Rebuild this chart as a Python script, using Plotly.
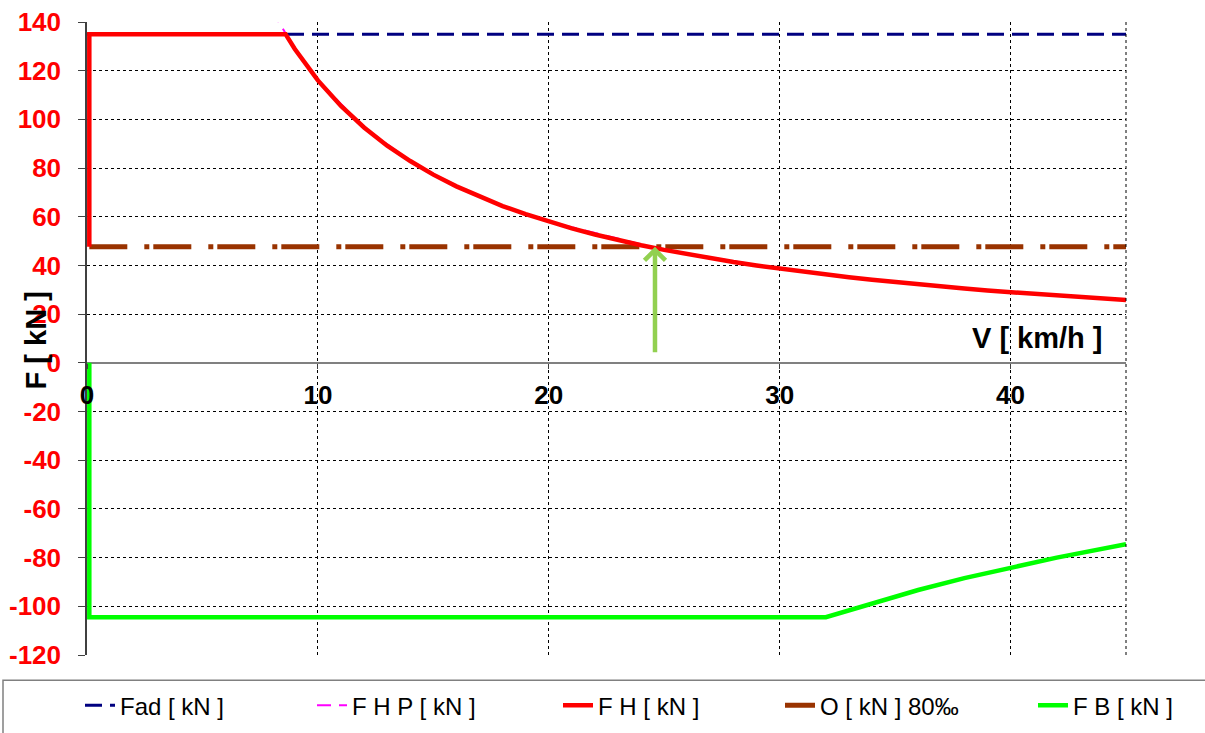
import plotly.graph_objects as go

# Speed axis [km/h] and force values [kN]
fh_v = [0.1, 0.1, 8.6, 9, 10, 11, 12, 13, 14, 15, 16, 17, 18, 19, 20, 21, 22, 23, 24, 25,
        26, 27, 28, 29, 30, 31, 32, 33, 34, 35, 36, 37, 38, 39, 40, 41, 42, 43, 44, 45]
fh_f = [47.7, 135, 135, 128.9, 116, 105.5, 96.7, 89.2, 82.9, 77.3, 72.5, 68.2, 64.4, 61.1,
        58.0, 55.2, 52.7, 50.4, 48.3, 46.4, 44.6, 43.0, 41.4, 40.0, 38.7, 37.4, 36.3, 35.2,
        34.1, 33.1, 32.2, 31.4, 30.5, 29.7, 29.0, 28.3, 27.6, 27.0, 26.4, 25.8]

fhp_v = [8.0, 8.6, 9, 10, 12, 14, 16, 18, 20, 25, 30, 35, 40, 45]
fhp_f = [145, 135, 128.9, 116, 96.7, 82.9, 72.5, 64.4, 58.0, 46.4, 38.7, 33.1, 29.0, 25.8]

fad_v = [0, 45]
fad_f = [135, 135]

o_v = [0.1, 45]
o_f = [47.7, 47.7]

fb_v = [0.1, 0.1, 32, 34, 36, 38, 40, 42, 45]
fb_f = [0, -104.5, -104.5, -98.8, -93.3, -88.4, -84.0, -80.0, -74.5]

# Intersection of traction force and resistance
cross_v = 24.6
cross_f = 47.7

x_ticks = [0, 10, 20, 30, 40]
y_ticks = list(range(-120, 141, 20))

FONT = "Arial, Liberation Sans, sans-serif"
PLOT_L, PLOT_W = 87, 1039


def px_to_paper_x(px):
    return (px - PLOT_L) / PLOT_W


# One legend box per series so each entry sits at its own place in the row
legend_left_px = [80, 312, 558, 780, 1033]
legend_ids = ["legend", "legend2", "legend3", "legend4", "legend5"]

fig = go.Figure()

fig.add_trace(go.Scatter(x=fad_v, y=fad_f, mode="lines", name="Fad [ kN ]",
                         line=dict(color="#000080", width=3, dash="17px,8px"),
                         legend=legend_ids[0]))
fig.add_trace(go.Scatter(x=fhp_v, y=fhp_f, mode="lines", name="F H P [ kN ]",
                         line=dict(color="#FF00FF", width=2, dash="14px,8px"),
                         legend=legend_ids[1]))
fig.add_trace(go.Scatter(x=o_v, y=o_f, mode="lines", name="O [ kN ] 80‰",
                         line=dict(color="#993300", width=5, dash="38px,17px,5px,4px"),
                         legend=legend_ids[3]))
fig.add_trace(go.Scatter(x=fh_v, y=fh_f, mode="lines", name="F H [ kN ]",
                         line=dict(color="#FF0000", width=4.5),
                         legend=legend_ids[2]))
fig.add_trace(go.Scatter(x=fb_v, y=fb_f, mode="lines", name="F B [ kN ]",
                         line=dict(color="#00FF00", width=4.5),
                         legend=legend_ids[4]))

# Arrow pointing at the balance speed
fig.add_annotation(x=cross_v, y=cross_f, xref="x", yref="y", ax=0, ay=107,
                   showarrow=True, arrowhead=4, arrowsize=0.9, arrowwidth=4.5,
                   arrowcolor="#92D050", text="")

# Axis titles
fig.add_annotation(x=px_to_paper_x(36), y=0.497, xref="paper", yref="paper",
                   xanchor="center", yanchor="middle",
                   text="<b>F [ kN ]</b>", textangle=-90, showarrow=False,
                   font=dict(family=FONT, size=29, color="black"))
fig.add_annotation(x=px_to_paper_x(1105), y=0.501, xref="paper", yref="paper",
                   xanchor="right", yanchor="middle",
                   text="<b>V [ km/h ]</b>", showarrow=False,
                   font=dict(family=FONT, size=29, color="black"))

# Right border of the plot area (dotted like the grid)
fig.add_shape(type="line", x0=1, x1=1, y0=0, y1=1, xref="paper", yref="paper",
              line=dict(color="black", width=1, dash="dot"))

# Legend frame
fig.add_shape(type="rect", x0=px_to_paper_x(3), x1=1.2, y0=-0.04, y1=-0.2,
              xref="paper", yref="paper",
              line=dict(color="#808080", width=1.5), fillcolor="rgba(0,0,0,0)")

zero_pos = (0 - y_ticks[0]) / (y_ticks[-1] - y_ticks[0])

legend_style = dict(orientation="h", xanchor="left", y=-0.08, yanchor="middle",
                    font=dict(family=FONT, size=24, color="black"),
                    bgcolor="rgba(0,0,0,0)", borderwidth=0)
legends = {lid: dict(legend_style, x=px_to_paper_x(px))
           for lid, px in zip(legend_ids, legend_left_px)}

fig.update_layout(
    width=1205, height=733,
    margin=dict(l=87, r=79, t=22, b=78, autoexpand=False),
    paper_bgcolor="white", plot_bgcolor="white",
    font=dict(family=FONT),
    showlegend=True,
    xaxis=dict(range=[0, 45], tickvals=x_ticks,
               ticktext=[f"<b>{v}</b>" for v in x_ticks],
               anchor="free", position=zero_pos, showgrid=True, gridcolor="black",
               griddash="dot", gridwidth=1, zeroline=False, showline=False,
               ticks="outside", ticklen=5, tickcolor="#404040",
               ticklabelstandoff=4,
               tickfont=dict(family=FONT, size=26, color="black")),
    yaxis=dict(range=[-120, 140], tickvals=y_ticks,
               ticktext=[f"<b>{v}</b>" for v in y_ticks],
               showgrid=True, gridcolor="black",
               griddash="dot", gridwidth=1, zeroline=True, zerolinecolor="#808080",
               zerolinewidth=1.5, showline=True, linecolor="#404040", linewidth=1.5,
               ticks="outside", ticklen=7, tickcolor="#404040",
               ticklabelstandoff=12,
               tickfont=dict(family=FONT, size=26, color="#FF0000")),
    **legends,
)

fig.write_html("out.html")
